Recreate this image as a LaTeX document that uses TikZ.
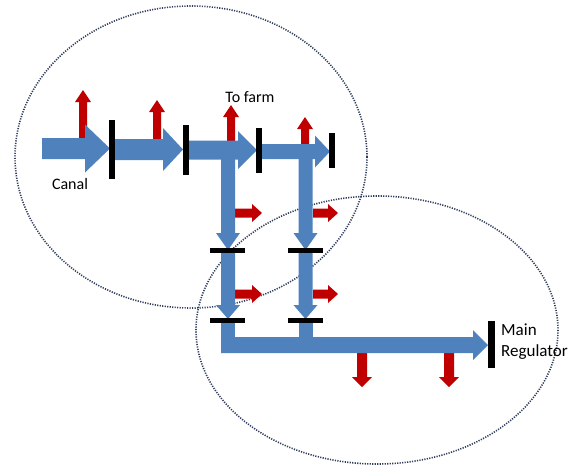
\documentclass[tikz,border=0pt]{standalone}
\usepackage{fontspec}
\setmainfont{Carlito}
\definecolor{flowblue}{HTML}{4F81BD}
\definecolor{outred}{HTML}{C00000}
\definecolor{zoneline}{HTML}{2F3D5C}
\newcommand\RArr[7]{\fill[#7] (#1,{#3-#4}) -- ({#2-#6},{#3-#4}) -- ({#2-#6},{#3-#5}) -- (#2,#3) -- ({#2-#6},{#3+#5}) -- ({#2-#6},{#3+#4}) -- (#1,{#3+#4}) -- cycle;}
\newcommand\DArr[7]{\fill[#7] ({#3-#4},#1) -- ({#3-#4},{#2-#6}) -- ({#3-#5},{#2-#6}) -- (#3,#2) -- ({#3+#5},{#2-#6}) -- ({#3+#4},{#2-#6}) -- ({#3+#4},#1) -- cycle;}
\newcommand\UArr[7]{\fill[#7] ({#3-#4},#1) -- ({#3-#4},{#2+#6}) -- ({#3-#5},{#2+#6}) -- (#3,#2) -- ({#3+#5},{#2+#6}) -- ({#3+#4},{#2+#6}) -- ({#3+#4},#1) -- cycle;}
\begin{document}
\begin{tikzpicture}[x=1pt,y=-1pt,
  zone/.style={draw=zoneline,line width=1.6pt,dash pattern=on 1.2pt off 1.3pt},
  gate/.style={fill=black},
  lbl/.style={font=\fontsize{16}{21}\selectfont,inner sep=0pt}]
\useasboundingbox (0,0) rectangle (568,467);
% zones
\draw[zone] (191,157) ellipse [x radius=176, y radius=151];
\draw[zone] (377,330) ellipse [x radius=181, y radius=134];
% red outlets up
\UArr{140}{90}{83}{4}{8}{12}{outred}
\UArr{140}{100}{157}{4}{8}{12}{outred}
\UArr{142}{105}{231}{4}{8}{12}{outred}
\UArr{146}{117}{305}{4}{8}{12}{outred}
% red outlets right
\RArr{235}{262}{213}{4.5}{9}{10}{outred}
\RArr{235}{262}{294}{4.5}{9}{10}{outred}
\RArr{313}{338}{213}{4.5}{9}{10}{outred}
\RArr{313}{338}{294}{4.5}{9}{10}{outred}
% red outlets down
\DArr{350}{387}{362}{5}{10}{10}{outred}
\DArr{350}{387}{449}{5}{10}{10}{outred}
% main canal
\RArr{42}{110}{148.5}{10.5}{24}{25}{flowblue}
\RArr{115}{183}{149.5}{10.5}{21.5}{20}{flowblue}
\RArr{188}{257}{150}{9.5}{19}{19}{flowblue}
\RArr{261}{330}{151.5}{7.5}{16}{15}{flowblue}
% branches
\DArr{155}{250}{228}{7}{12}{17}{flowblue}
\DArr{252}{319}{228}{7}{12}{14}{flowblue}
\DArr{155}{250}{305.5}{7}{12}{17}{flowblue}
\DArr{252}{319}{305.5}{7}{12}{14}{flowblue}
\fill[flowblue] (221,321) rectangle (235,345);
\fill[flowblue] (298.5,321) rectangle (312.5,345);
\RArr{221}{488}{345}{8}{15}{15}{flowblue}
% gates
\fill[gate] (109,120) rectangle (115,179);
\fill[gate] (183,125) rectangle (189,175);
\fill[gate] (256,128) rectangle (262,173);
\fill[gate] (329,133) rectangle (335,168);
\fill[gate] (210,248) rectangle (245,253);
\fill[gate] (210,318) rectangle (245,323);
\fill[gate] (288,248) rectangle (323,253);
\fill[gate] (288,318) rectangle (323,323);
\fill[gate] (488,321) rectangle (495,368);
% labels
\node[lbl] (canal) at (70,184) {Canal};
\node[lbl] (farm) at (250,97) {To farm};
\node[lbl,font=\fontsize{17}{21}\selectfont,anchor=west,align=left] (reg) at (501,342) {Main\\Regulator};
\end{tikzpicture}
\end{document}
